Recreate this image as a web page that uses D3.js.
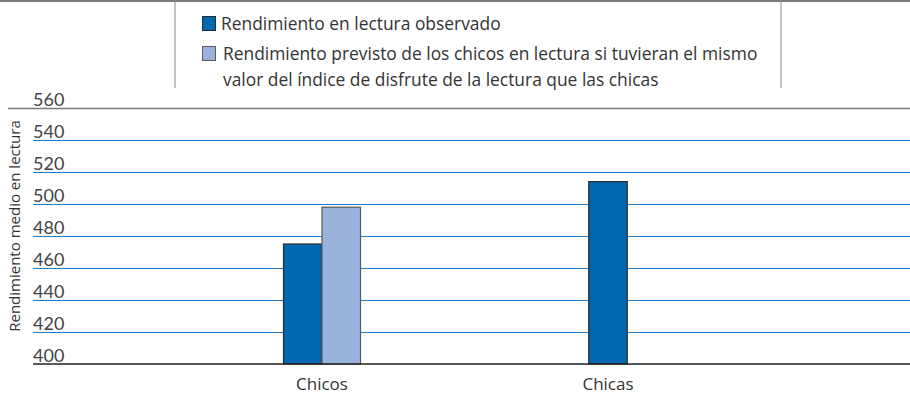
<!DOCTYPE html>
<html>
<head>
<meta charset="utf-8">
<script src="https://cdn.jsdelivr.net/npm/d3@7"></script>
<style>
  html, body { margin: 0; padding: 0; background: #fff; }
  svg { display: block; font-family: Lato, "Open Sans", sans-serif; }
</style>
</head>
<body>
<svg id="chart" width="910" height="394"></svg>
<script>
// Categories and series
const categories = ["Chicos", "Chicas"];
const seriesNames = [
  "Rendimiento en lectura observado",
  "Rendimiento previsto de los chicos en lectura si tuvieran el mismo valor del índice de disfrute de la lectura que las chicas"
];
const observed = [475, 514];
const predicted = [498, null];
const yTicks = [400, 420, 440, 460, 480, 500, 520, 540, 560];
const yTitle = "Rendimiento medio en lectura";
const legendLines = [
  ["Rendimiento en lectura observado"],
  ["Rendimiento previsto de los chicos en lectura si tuvieran el mismo",
   "valor del índice de disfrute de la lectura que las chicas"]
];

const colors = ["#0067b1", "#98b2db"];
const strokes = ["#2a2a2a", "#5a5a5a"];
const textFont = "'Open Sans', Lato, sans-serif";

const svg = d3.select("#chart");
const W = 910;
const plotLeft = 33, plotRight = 910;
const yTop = 108, yBottom = 364;

const y = d3.scaleLinear().domain([400, 560]).range([yBottom, yTop]);
const x = d3.scaleBand().domain(categories).range([179, 751]).padding(0);
const barW = 38.5;

// Top frame
svg.append("line").attr("x1", 0).attr("x2", W).attr("y1", 1).attr("y2", 1)
  .attr("stroke", "#7a7a7a").attr("stroke-width", 2);
[175, 781].forEach(px => {
  svg.append("line").attr("x1", px).attr("x2", px).attr("y1", 0).attr("y2", 88)
    .attr("stroke", "#8a8a8a").attr("stroke-width", 1);
});

// Legend
const lg = svg.append("g");
const legendRows = [
  { sw: [202, 16], text: [221, 30], lines: legendLines[0] },
  { sw: [202, 46], text: [223, 60], lines: legendLines[1] }
];
legendRows.forEach((r, i) => {
  lg.append("rect").attr("x", r.sw[0] + 0.5).attr("y", r.sw[1] + 0.5)
    .attr("width", 13).attr("height", 14)
    .attr("fill", colors[i]).attr("stroke", strokes[i]).attr("stroke-width", 1);
  r.lines.forEach((t, j) => {
    lg.append("text").attr("x", r.text[0]).attr("y", r.text[1] + j * 26)
      .attr("font-size", 17.4).attr("fill", "#333")
      .style("font-family", textFont).text(t);
  });
});

// Gridlines
const grid = svg.append("g");
yTicks.forEach(v => {
  if (v === 400) return;
  const top = v === 560;
  grid.append("line")
    .attr("x1", top ? 8 : plotLeft).attr("x2", plotRight)
    .attr("y1", Math.round(y(v)) + 0.5).attr("y2", Math.round(y(v)) + 0.5)
    .attr("stroke", top ? "#7a7a7a" : "#2279c4").attr("stroke-width", top ? 1.6 : 1.2);
});

// Tick labels sit just above their lines
const yAxis = d3.axisLeft(y).tickValues(yTicks).tickSize(0).tickPadding(0);
const ax = svg.append("g").attr("transform", `translate(${plotLeft},0)`).call(yAxis);
ax.select(".domain").remove();
ax.selectAll("text")
  .attr("text-anchor", "start").attr("x", 0).attr("dy", "-3")
  .attr("font-size", 18).attr("fill", "#444")
  .style("font-family", "Lato, 'Open Sans', sans-serif");

// Axis title
svg.append("text")
  .attr("transform", `translate(20,${(yTop + yBottom) / 2 - 10}) rotate(-90)`)
  .attr("text-anchor", "middle").attr("font-size", 15).attr("fill", "#333")
  .style("font-family", textFont)
  .text(yTitle);

// Bars
const series = [observed, predicted];
categories.forEach((c, ci) => {
  const present = series.map((s, si) => ({ si, v: s[ci] })).filter(d => d.v != null);
  const cx = x(c) + x.bandwidth() / 2;
  const start = cx - present.length * barW / 2;
  present.forEach((d, k) => {
    svg.append("rect")
      .attr("x", start + k * barW).attr("y", y(d.v))
      .attr("width", barW).attr("height", y(400) - y(d.v))
      .attr("fill", colors[d.si]).attr("stroke", strokes[d.si]).attr("stroke-width", 1.2);
  });
});

// Baseline
svg.append("line").attr("x1", plotLeft).attr("x2", plotRight)
  .attr("y1", y(400)).attr("y2", y(400)).attr("stroke", "#222").attr("stroke-width", 1.5);

// Category labels
const xAxis = d3.axisBottom(x).tickSize(0).tickPadding(0);
const xg = svg.append("g").attr("transform", `translate(0,${yBottom})`).call(xAxis);
xg.select(".domain").remove();
xg.selectAll("text").attr("dy", "0").attr("y", 26)
  .attr("font-size", 17).attr("fill", "#333")
  .style("font-family", textFont);
</script>
</body>
</html>
